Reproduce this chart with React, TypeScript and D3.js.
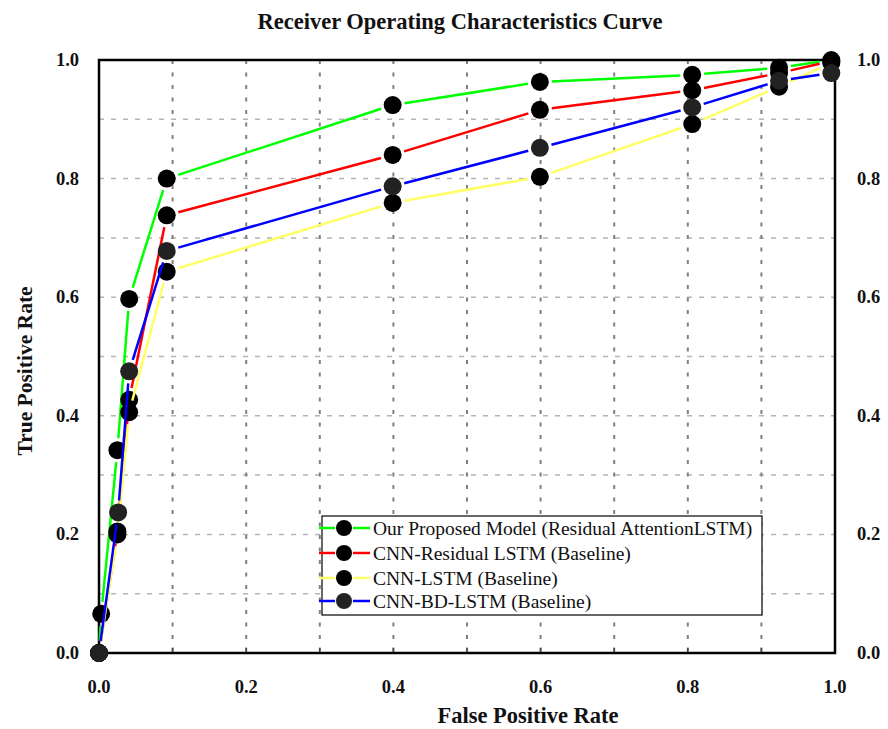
import React from "react";
import * as d3 from "d3";

const W = 888;
const H = 729;

const seriesNames = [
  "Our Proposed Model (Residual AttentionLSTM)",
  "CNN-Residual LSTM (Baseline)",
  "CNN-LSTM (Baseline)",
  "CNN-BD-LSTM (Baseline)",
];
const seriesColors = ["#00ff00", "#ff0000", "#ffff66", "#0000ff"];
const markerColors = ["#000000", "#000000", "#000000", "#222222"];

const greenFPR = [0, 0.003, 0.025, 0.041, 0.092, 0.399, 0.599, 0.806, 0.924, 0.995];
const greenTPR = [0, 0.066, 0.342, 0.597, 0.8, 0.924, 0.963, 0.975, 0.987, 1.0];
const redFPR = [0, 0.025, 0.041, 0.092, 0.399, 0.599, 0.806, 0.924, 0.995];
const redTPR = [0, 0.205, 0.427, 0.738, 0.84, 0.916, 0.949, 0.978, 0.998];
const yellowFPR = [0, 0.025, 0.041, 0.092, 0.399, 0.599, 0.806, 0.924, 0.995];
const yellowTPR = [0, 0.2, 0.406, 0.643, 0.759, 0.803, 0.892, 0.955, 0.995];
const blueFPR = [0, 0.026, 0.041, 0.092, 0.399, 0.599, 0.806, 0.924, 0.995];
const blueTPR = [0, 0.237, 0.475, 0.678, 0.787, 0.852, 0.92, 0.965, 0.978];

const tickValues = [0, 0.2, 0.4, 0.6, 0.8, 1.0];
const gridValues = [0.1, 0.2, 0.3, 0.4, 0.5, 0.6, 0.7, 0.8, 0.9];

const title = "Receiver Operating Characteristics Curve";
const xTitle = "False Positive Rate";
const yTitle = "True Positive Rate";

const FONT = "'Liberation Serif', 'Times New Roman', serif";

export default function App() {
  const left = 99,
    right = 835,
    top = 60,
    bottom = 653;
  const x = d3.scaleLinear().domain([0, 1]).range([left, right]);
  const y = d3.scaleLinear().domain([0, 1]).range([bottom, top]);

  const series = [
    { fpr: greenFPR, tpr: greenTPR },
    { fpr: redFPR, tpr: redTPR },
    { fpr: yellowFPR, tpr: yellowTPR },
    { fpr: blueFPR, tpr: blueTPR },
  ];

  const R = 9;
  const GAP = 12;

  const segments = (pts: [number, number][]) => {
    const out: [number, number, number, number][] = [];
    for (let i = 0; i < pts.length - 1; i++) {
      const [x1, y1] = pts[i];
      const [x2, y2] = pts[i + 1];
      const dx = x2 - x1,
        dy = y2 - y1;
      const len = Math.hypot(dx, dy);
      if (len <= 2 * GAP) continue;
      const ux = dx / len,
        uy = dy / len;
      out.push([x1 + ux * GAP, y1 + uy * GAP, x2 - ux * GAP, y2 - uy * GAP]);
    }
    return out;
  };

  const fmt = d3.format(".1f");

  const legX = 322,
    legY = 516,
    legW = 440,
    legH = 99;
  const rowY = [528, 553, 578, 601];

  return (
    <svg
      width={W}
      height={H}
      style={{ position: "absolute", left: 0, top: 0, display: "block", background: "#fff" }}
      fontFamily={FONT}
    >
      <rect x={0} y={0} width={W} height={H} fill="#fff" />
      <text x={460} y={29} textAnchor="middle" fontSize={22.5} fontWeight="bold" fill="#111">
        {title}
      </text>

      {/* grid */}
      {gridValues.map((v) => (
        <line
          key={"h" + v}
          x1={left}
          x2={right}
          y1={y(v)}
          y2={y(v)}
          stroke="#b4b4b4"
          strokeWidth={1.5}
          strokeDasharray="5 7"
        />
      ))}
      {gridValues.map((v) => (
        <line
          key={"v" + v}
          x1={x(v)}
          x2={x(v)}
          y1={top}
          y2={bottom}
          stroke="#808080"
          strokeWidth={2}
          strokeDasharray="4 8.5"
        />
      ))}

      {/* bottom minor ticks */}
      {gridValues.map((v) => (
        <line key={"t" + v} x1={x(v)} x2={x(v)} y1={bottom} y2={bottom - 5} stroke="#444" strokeWidth={1.5} />
      ))}

      {/* frame */}
      <rect x={left} y={top} width={right - left} height={bottom - top} fill="none" stroke="#000" strokeWidth={2.5} />

      {/* tick labels */}
      {tickValues.map((v) => (
        <text key={"xl" + v} x={x(v)} y={693} textAnchor="middle" fontSize={18.5} fontWeight="bold" fill="#111">
          {fmt(v)}
        </text>
      ))}
      {tickValues.map((v) => (
        <text key={"yl" + v} x={79} y={y(v) + 6} textAnchor="end" fontSize={18.5} fontWeight="bold" fill="#111">
          {fmt(v)}
        </text>
      ))}
      {tickValues.map((v) => (
        <text key={"yr" + v} x={857} y={y(v) + 6} textAnchor="start" fontSize={18.5} fontWeight="bold" fill="#111">
          {fmt(v)}
        </text>
      ))}

      <text x={528} y={723} textAnchor="middle" fontSize={22.5} fontWeight="bold" fill="#111">
        {xTitle}
      </text>
      <text
        transform={`translate(32,371) rotate(-90)`}
        textAnchor="middle"
        fontSize={21.5}
        fontWeight="bold"
        fill="#111"
      >
        {yTitle}
      </text>

      {/* series */}
      {series.map((s, si) => {
        const pts: [number, number][] = s.fpr.map((f, i) => [x(f), y(s.tpr[i])]);
        return (
          <g key={"s" + si}>
            {segments(pts).map((sg, i) => (
              <line
                key={i}
                x1={sg[0]}
                y1={sg[1]}
                x2={sg[2]}
                y2={sg[3]}
                stroke={seriesColors[si]}
                strokeWidth={2.5}
              />
            ))}
            {pts.map((p, i) => (
              <circle key={"c" + i} cx={p[0]} cy={p[1]} r={R} fill={markerColors[si]} />
            ))}
          </g>
        );
      })}

      {/* legend */}
      <rect x={legX} y={legY} width={legW} height={legH} fill="#fff" stroke="#000" strokeWidth={1.2} />
      {seriesNames.map((n, i) => {
        const cy = rowY[i];
        return (
          <g key={"lg" + i}>
            <line x1={legX - 3} x2={legX + 13} y1={cy} y2={cy} stroke={seriesColors[i]} strokeWidth={2.5} />
            <line x1={legX + 31} x2={legX + 48} y1={cy} y2={cy} stroke={seriesColors[i]} strokeWidth={2.5} />
            <circle cx={legX + 22} cy={cy} r={8} fill={markerColors[i]} />
            <text x={legX + 51} y={cy + 6.5} fontSize={19.5} fill="#111">
              {n}
            </text>
          </g>
        );
      })}
    </svg>
  );
}
